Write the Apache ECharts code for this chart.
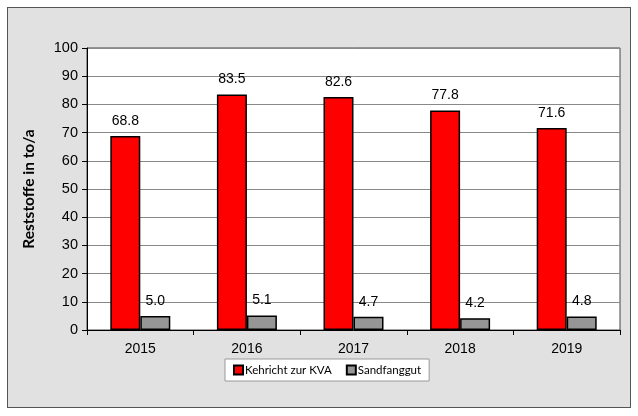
<!DOCTYPE html>
<html><head><meta charset="utf-8">
<script src="https://cdn.jsdelivr.net/npm/echarts@6/dist/echarts.min.js"></script>
<style>
html,body{margin:0;padding:0;background:#fff;}
#frame{position:absolute;left:7px;top:7px;width:622px;height:399px;border:1.5px solid #555;background:#e1e1e1;}
#c{position:absolute;left:0;top:0;width:638px;height:416px;}
</style></head>
<body>
<div id="frame"></div>
<div id="c"></div>
<script>
var years = ['2015','2016','2017','2018','2019'];
var kehricht = [68.8, 83.5, 82.6, 77.8, 71.6];
var sandfang = [5.0, 5.1, 4.7, 4.2, 4.8];
var yTicks = [0,10,20,30,40,50,60,70,80,90,100];

var chart = echarts.init(document.getElementById('c'), null, {renderer:'canvas'});
var lbl = {show:true, position:'top', distance:8, color:'#000', fontFamily:'Liberation Sans', fontSize:14, formatter:function(p){return p.value.toFixed(1);}};
chart.setOption({
  animation:false,
  backgroundColor:'transparent',
  grid:{left:87, right:18, top:48, bottom:86, show:true, backgroundColor:'#fff', borderColor:'#444', borderWidth:1},
  legend:{
    bottom:35, left:225,
    itemWidth:9, itemHeight:9, itemGap:14,
    backgroundColor:'#fff', borderColor:'#999', borderWidth:1,
    padding:[5,8,5,8],
    textStyle:{fontFamily:'Lato', fontSize:11.5, color:'#000', padding:[0,0,0,-3]},
    icon:'rect',
    data:['Kehricht zur KVA','Sandfanggut']
  },
  xAxis:{
    type:'category', data:years,
    axisLine:{lineStyle:{color:'#000'}},
    axisTick:{show:true, length:5, lineStyle:{color:'#000'}},
    axisLabel:{fontFamily:'Liberation Sans', fontSize:14, color:'#000', margin:12}
  },
  yAxis:{
    type:'value', min:0, max:100, interval:10,
    name:'Reststoffe in to/a', nameLocation:'middle', nameGap:50,
    nameTextStyle:{fontFamily:'Lato', fontWeight:'bold', fontSize:15.5, color:'#000'},
    axisLine:{show:true, lineStyle:{color:'#000'}},
    axisTick:{show:true, length:5, lineStyle:{color:'#000'}},
    axisLabel:{fontFamily:'Liberation Sans', fontSize:14.5, color:'#000', margin:9,
      formatter:function(v){return yTicks.indexOf(v)>=0? String(v):'';}},
    splitLine:{lineStyle:{color:'#888', width:1}}
  },
  series:[
    {name:'Kehricht zur KVA', type:'bar', data:kehricht, barWidth:30, barGap:'0%',
     itemStyle:{color:'#ff0000', borderColor:'#000', borderWidth:1.5}, label:lbl},
    {name:'Sandfanggut', type:'bar', data:sandfang, barWidth:30, barGap:'0%',
     itemStyle:{color:'#969696', borderColor:'#000', borderWidth:1.5}, label:lbl}
  ]
});
</script>
</body></html>
